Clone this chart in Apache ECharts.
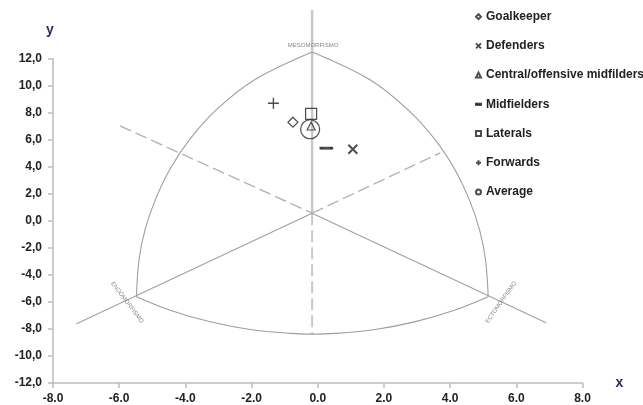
<!DOCTYPE html>
<html>
<head>
<meta charset="utf-8">
<script src="https://cdn.jsdelivr.net/npm/echarts@6/dist/echarts.min.js"></script>
<style>html,body{margin:0;padding:0;background:#fff}#c{width:643px;height:405px}</style>
</head>
<body>
<div id="c"></div>
<script>
// ---- data ----
var groupNames = ['Goalkeeper','Defenders','Central/offensive midfilders','Midfielders','Laterals','Forwards','Average'];
var goalkeeper = [[-0.75, 7.30]];
var defenders = [[1.06, 5.30]];
var centralMid = [[-0.20, 7.02]];
var midfielders = [[0.26, 5.38]];
var laterals = [[-0.20, 7.91]];
var forwards = [[-1.34, 8.70]];
var average = [[-0.23, 6.78]];

// somatochart outline (arcs)
var arcLeft = [[-0.17,12.50],[-1.92,10.43],[-3.07,8.21],[-3.88,5.99],[-4.48,3.77],[-4.91,1.55],[-5.22,-0.67],[-5.40,-2.88],[-5.48,-5.61]];
var arcRight = [[-0.17,12.50],[1.59,10.43],[2.73,8.21],[3.55,5.99],[4.15,3.77],[4.58,1.55],[4.89,-0.67],[5.07,-2.88],[5.15,-5.61]];
var arcBottom = [[-5.48,-5.61],[-4.46,-6.61],[-3.25,-7.47],[-2.04,-8.04],[-0.83,-8.33],[-0.17,-8.38],[0.53,-8.33],[1.74,-8.04],[2.95,-7.46],[4.15,-6.59],[5.15,-5.61]];
// axes of the chart
var centerPt = [-0.17, 0.57];
var vertUp = [[-0.17, 15.6], centerPt];
var vertDown = [centerPt, [-0.17, -8.38]];
var diagULdash = [[-5.97, 7.02], centerPt];
var diagURdash = [centerPt, [3.70, 5.03]];
var diagLL = [[-7.29, -7.62], centerPt];
var diagLR = [centerPt, [6.90, -7.54]];
var apexLabels = [
  {value: [-0.14, 13.01], name: 'MESOMORFISMO', rot: 0},
  {value: [-5.76, -6.03], name: 'ENDOMORFISMO', rot: -53},
  {value: [5.54, -6.03], name: 'ECTOMORFISMO', rot: 55}
];
var xTicks = {min: -8, max: 8, interval: 2};
var yTicks = {min: -12, max: 12, interval: 2};

var FONT = 'Liberation Sans, Arial, sans-serif';
function guide(data, color, width, type) {
  return {type: 'line', data: data, symbol: 'none', silent: true, clip: false, z: 1,
    lineStyle: {color: color, width: width, type: type}, smooth: false, animation: false};
}
function arc(data) {
  var s = guide(data, '#9e9e9e', 1.1, 'solid'); s.smooth = 0.35; return s;
}
function mark(name, data, symbol, size, opt) {
  opt = opt || {};
  return {type: 'scatter', name: name, data: data, symbol: symbol, symbolSize: size, z: 5,
    itemStyle: {color: opt.fill || 'rgba(0,0,0,0)', borderColor: '#222', borderWidth: opt.bw || 1.2},
    animation: false};
}

var chart = echarts.init(document.getElementById('c'), null, {renderer: 'canvas'});
var series = [
  guide(vertUp, '#c8c8c8', 2.5, 'solid'),
  guide(vertDown, '#c8c8c8', 2, [12, 5]),
  guide(diagULdash, '#b4b4b4', 1.4, [12, 5]),
  guide(diagURdash, '#b4b4b4', 1.4, [12, 5]),
  guide(diagLL, '#a0a0a0', 1.1, 'solid'),
  guide(diagLR, '#a0a0a0', 1.1, 'solid'),
  arc(arcLeft), arc(arcRight), arc(arcBottom),
  {type: 'scatter', data: apexLabels.map(function(d){return {value: d.value, name: d.name, label: {rotate: d.rot}};}),
    symbolSize: 0, silent: true, clip: false, z: 2, animation: false,
    label: {show: true, position: 'inside', formatter: '{b}', fontSize: 6, color: '#666', fontFamily: FONT}},
  mark(groupNames[0], goalkeeper, 'diamond', 10),
  mark(groupNames[1], defenders, 'path://M0,0L10,10M10,0L0,10', 9, {bw: 2}),
  mark(groupNames[2], centralMid, 'triangle', 8),
  mark(groupNames[3], midfielders, 'rect', [11, 2.2], {fill: '#222', bw: 0}),
  mark(groupNames[4], laterals, 'rect', 11),
  mark(groupNames[5], forwards, 'path://M0,5L10,5M5,0L5,10', 11, {bw: 1.4}),
  mark(groupNames[6], average, 'circle', 19)
];

var legendIcons = ['diamond', 'path://M0,0L10,10M10,0L0,10', 'triangle', 'path://M0,0L10,0L10,2.5L0,2.5Z', 'rect', 'path://M0,5L10,5M5,0L5,10', 'circle'];

chart.setOption({
  animation: false,
  grid: {left: 53, right: 60.5, top: 58.7, bottom: 21.7},
  legend: {
    data: groupNames.map(function(n, i){ return {name: n, icon: legendIcons[i]}; }),
    orient: 'vertical', left: 475, top: 9.7, padding: 0,
    itemWidth: 5, itemHeight: 5, itemGap: 15.2, selectedMode: false,
    textStyle: {fontFamily: FONT, fontSize: 12, fontWeight: 'bold', color: '#222', lineHeight: 14}
  },
  xAxis: {
    type: 'value', min: xTicks.min, max: xTicks.max, interval: xTicks.interval,
    splitLine: {show: false},
    axisLine: {onZero: false, lineStyle: {color: '#bdbdbd', width: 1.5}},
    axisTick: {show: true, length: 5, lineStyle: {color: '#bdbdbd', width: 1.5}},
    axisLabel: {margin: 10, fontFamily: FONT, fontSize: 12, fontWeight: 'bold', color: '#222',
      formatter: function(v){return v.toFixed(1);}},
    name: 'x', nameLocation: 'end', nameGap: 33,
    nameTextStyle: {fontFamily: FONT, fontSize: 14, fontWeight: 'bold', color: '#1f2d5a'}
  },
  yAxis: {
    type: 'value', min: yTicks.min, max: yTicks.max, interval: yTicks.interval,
    splitLine: {show: false},
    axisLine: {onZero: false, lineStyle: {color: '#bdbdbd', width: 1.5}},
    axisTick: {show: true, length: 5, lineStyle: {color: '#bdbdbd', width: 1.5}},
    axisLabel: {margin: 11, fontFamily: FONT, fontSize: 12, fontWeight: 'bold', color: '#222',
      formatter: function(v){return v.toFixed(1).replace('.', ',');}},
    name: 'y', nameLocation: 'end', nameGap: 22,
    nameTextStyle: {fontFamily: FONT, fontSize: 14, fontWeight: 'bold', color: '#1f2d5a', padding: [0, 6, 0, 0]}
  },
  series: series
});
</script>
</body>
</html>
